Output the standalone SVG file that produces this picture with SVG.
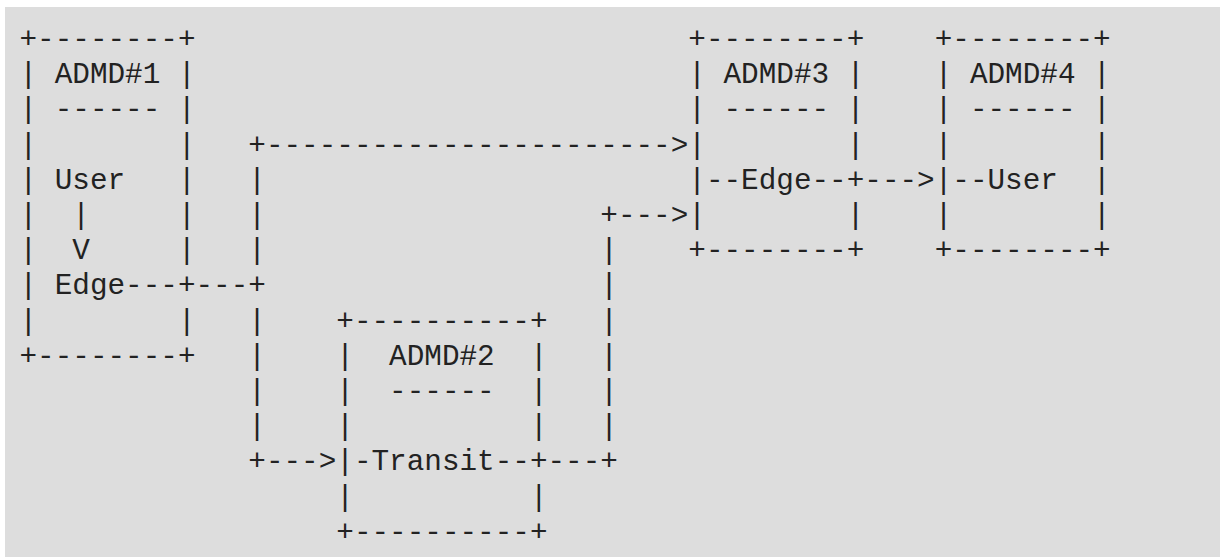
<svg xmlns="http://www.w3.org/2000/svg" width="1220" height="558" viewBox="0 0 1220 558" xml:space="preserve">
<style>
text{font-family:"Liberation Mono","DejaVu Sans Mono",monospace;font-size:29.333px;fill:#222;white-space:pre}
</style>
<rect x="5" y="7" width="1215" height="550" fill="#dddddd"/>
<g id="admd1">
<text x="19.5" y="47.8">+--------+</text>
<text x="19.5" y="83.0">| ADMD#1 |</text>
<text x="19.5" y="118.2">| ------ |</text>
<text x="19.5" y="153.5">|        |</text>
<text x="19.5" y="188.7">| User   |</text>
<text x="19.5" y="223.9">|  |     |</text>
<text x="19.5" y="259.1">|  V     |</text>
<text x="19.5" y="294.3">| Edge---+</text>
<text x="19.5" y="329.6">|        |</text>
<text x="19.5" y="364.8">+--------+</text>
</g>
<g id="admd3">
<text x="688.3" y="47.8">+--------+</text>
<text x="688.3" y="83.0">| ADMD#3 |</text>
<text x="688.3" y="118.2">| ------ |</text>
<text x="688.3" y="153.5">|        |</text>
<text x="688.3" y="188.7">|--Edge--+</text>
<text x="688.3" y="223.9">|        |</text>
<text x="688.3" y="259.1">+--------+</text>
</g>
<g id="admd4">
<text x="934.7" y="47.8">+--------+</text>
<text x="934.7" y="83.0">| ADMD#4 |</text>
<text x="934.7" y="118.2">| ------ |</text>
<text x="934.7" y="153.5">|        |</text>
<text x="934.7" y="188.7">|--User  |</text>
<text x="934.7" y="223.9">|        |</text>
<text x="934.7" y="259.1">+--------+</text>
</g>
<g id="admd2">
<text x="336.3" y="329.6">+----------+</text>
<text x="336.3" y="364.8">|  ADMD#2  |</text>
<text x="336.3" y="400.0">|  ------  |</text>
<text x="336.3" y="435.2">|          |</text>
<text x="336.3" y="470.4">|-Transit--+</text>
<text x="336.3" y="505.7">|          |</text>
<text x="336.3" y="540.9">+----------+</text>
</g>
<g id="connectors">
<text x="248.3" y="153.5">+-----------------------></text>
<text x="248.3" y="188.7">|</text>
<text x="248.3" y="223.9">|</text>
<text x="248.3" y="259.1">|</text>
<text x="195.5" y="294.3">---+</text>
<text x="248.3" y="329.6">|</text>
<text x="248.3" y="364.8">|</text>
<text x="248.3" y="400.0">|</text>
<text x="248.3" y="435.2">|</text>
<text x="248.3" y="470.4">+---></text>
<text x="864.3" y="188.7">---></text>
<text x="600.3" y="223.9">+---></text>
<text x="600.3" y="259.1">|</text>
<text x="600.3" y="294.3">|</text>
<text x="600.3" y="329.6">|</text>
<text x="600.3" y="364.8">|</text>
<text x="600.3" y="400.0">|</text>
<text x="600.3" y="435.2">|</text>
<text x="547.5" y="470.4">---+</text>
</g>
</svg>
